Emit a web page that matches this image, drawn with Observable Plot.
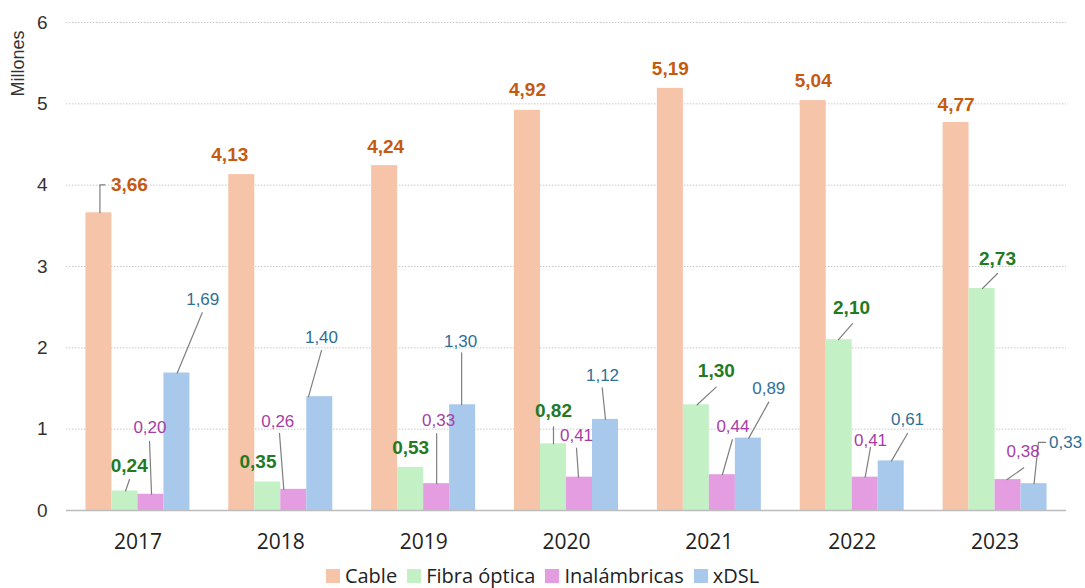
<!DOCTYPE html>
<html>
<head>
<meta charset="utf-8">
<script src="https://cdn.jsdelivr.net/npm/d3@7"></script>
<script src="https://cdn.jsdelivr.net/npm/@observablehq/plot@0.6"></script>
<style>
  html, body { margin: 0; padding: 0; background: #fff; }
  #chart { width: 1085px; }
  .legend { display: flex; justify-content: center; align-items: center; height: 25px; font-family: "Open Sans", sans-serif; font-size: 20px; color: #222; padding-left: 0; }
  .legend .item { display: flex; align-items: center; margin: 0 5px; }
  .legend .sw { width: 14px; height: 14px; margin-right: 5px; display: inline-block; }
</style>
</head>
<body>
<div id="chart"></div>
<script>
// ---------- data ----------
const years = [2017, 2018, 2019, 2020, 2021, 2022, 2023];
const series = ["Cable", "Fibra óptica", "Inalámbricas", "xDSL"];
const cable = [3.66, 4.13, 4.24, 4.92, 5.19, 5.04, 4.77];
const fibra = [0.24, 0.35, 0.53, 0.82, 1.30, 2.10, 2.73];
const inalambricas = [0.20, 0.26, 0.33, 0.41, 0.44, 0.41, 0.38];
const xdsl = [1.69, 1.40, 1.30, 1.12, 0.89, 0.61, 0.33];
const yTicks = [0, 1, 2, 3, 4, 5, 6];
const yTitle = "Millones";

// ---------- styles ----------
const barColors = ["#f6c4a9", "#c4f0c6", "#e39de0", "#a8c9eb"];
const labelColors = ["#c55a11", "#237a23", "#a63ea6", "#2f6f96"];
const labelWeights = ["bold", "bold", "normal", "normal"];
const labelSizes = [19, 19, 17, 17];

// label placement (pixel offsets from the top-centre of each bar)
const labelLayout = [
  [[12, -28, "start"], [-12, -20], [1, -19], [0, -20], [0, -19], [0, -19.5], [0, -18]],
  [[4.3, -25.5], [-9.8, -19.8], [0, -19], [0, -33], [20, -33.6], [12.3, -32], [15.4, -30]],
  [[-1, -67], [-16, -68], [2, -63], [-3, -42], [10.6, -48], [5.3, -36.7], [15, -28]],
  [[25.8, -73.3], [1.7, -59], [-2, -63], [-3, -44], [20.4, -49.3], [16.3, -41.4], [15, -41.5, "start"]]
];
const leaderLayout = [
  [[[1, 0], [1, -28], [6, -28]], null, null, null, null, null, null],
  [[[0.6, 0], [4.6, -11.5]], null, null, [[0, 0], [0, -17]], [[0.8, 0], [19.8, -17.6]], [[-0.7, 0], [13.3, -16]], [[0.4, 0], [15.4, -15]]],
  [[[0.6, 0], [-1.4, -53]], [[-10, 0], [-14.3, -56]], [[0, 0], [0, -50]], [[-1, 0], [-3, -29]], [[0, 0], [10, -35]], [[0, 0], [5.3, -29.7]], [[-1, 0], [15.7, -11.8]]],
  [[[0.3, 0], [25.3, -60.3]], [[-11.3, 0], [1.7, -46]], [[-1, 0], [-1, -52]], [[0, 0], [-3.3, -31.6]], [[0.4, 0], [20.4, -36]], [[0.3, 0], [16.3, -27.4]], [[0, 0], [4.4, -41.2], [11.4, -41.2]]]
];

// ---------- layout ----------
const W = 1085, H = 563, ML = 66, MR = 19, MT = 22, MB = 53;
const kx = (W - ML - MR) / years.length;      // px per year slot
const ky = (H - MT - MB) / (yTicks.length - 1); // px per unit
const barPx = 26;
const bw = barPx / kx;

const values = [cable, fibra, inalambricas, xdsl];
const fmt = v => v.toFixed(2).replace(".", ",");

const bars = [];
const labels = [];
const leaders = [];
values.forEach((vals, k) => {
  vals.forEach((v, i) => {
    const cx = i + (k - 1.5) * bw;
    bars.push({series: series[k], year: years[i], value: v, x1: cx - bw / 2, x2: cx + bw / 2});
    const L = labelLayout[k][i];
    labels.push({k, text: fmt(v), x: cx + L[0] / kx, y: v - L[1] / ky, anchor: L[2] || "middle"});
    const P = leaderLayout[k][i];
    if (P) P.forEach(p => leaders.push({id: k + "-" + i, x: cx + p[0] / kx, y: v - p[1] / ky}));
  });
});

const labelMarks = [];
series.forEach((s, k) => {
  ["middle", "start"].forEach(a => {
    const d = labels.filter(l => l.k === k && l.anchor === a);
    if (d.length) labelMarks.push(Plot.text(d, {
      x: "x", y: "y", text: "text", textAnchor: a,
      fill: labelColors[k], fontWeight: labelWeights[k], fontSize: labelSizes[k],
      fontFamily: "Liberation Sans, Arial, sans-serif"
    }));
  });
});

// y-axis title, placed left of the frame (pixel offsets converted to data units)
const titleDatum = [{text: yTitle, x: -0.5 - 48 / kx, y: 6 - 41 / ky}];

const chart = Plot.plot({
  width: W, height: H,
  marginLeft: ML, marginRight: MR, marginTop: MT, marginBottom: MB,
  style: {fontFamily: "Liberation Sans, Arial, sans-serif", background: "white", overflow: "visible"},
  x: {domain: [-0.5, years.length - 0.5]},
  y: {domain: [0, 6]},
  color: {domain: series, range: barColors},
  marks: [
    Plot.ruleY(yTicks.filter(t => t > 0), {stroke: "#c8c8c8", strokeWidth: 1, strokeDasharray: "1.5,1.5"}),
    Plot.rectY(bars, {x1: "x1", x2: "x2", y1: 0, y2: "value", fill: "series", inset: 0}),
    Plot.ruleY([0], {stroke: "#bcbcbc", strokeWidth: 1.5}),
    Plot.line(leaders, {x: "x", y: "y", z: "id", stroke: "#7f7f7f", strokeWidth: 1.2}),
    ...labelMarks,
    Plot.axisY({ticks: yTicks, tickSize: 0, tickPadding: 19, fontSize: 19, fill: "#333", tickFormat: d => String(d), label: null}),
    Plot.axisX({ticks: d3.range(years.length), tickSize: 0, tickPadding: 24, tickFormat: i => String(years[i]), fontSize: 21, fontFamily: "Open Sans, sans-serif", fill: "#222", label: null}),
    Plot.text(titleDatum, {x: "x", y: "y", text: "text", rotate: -90, fontSize: 18, fill: "#333", clip: false})
  ]
});

const root = document.getElementById("chart");
root.appendChild(chart);

const legend = document.createElement("div");
legend.className = "legend";
series.forEach((s, k) => {
  const it = document.createElement("span");
  it.className = "item";
  const sw = document.createElement("span");
  sw.className = "sw";
  sw.style.background = barColors[k];
  const tx = document.createElement("span");
  tx.textContent = s;
  it.appendChild(sw); it.appendChild(tx);
  legend.appendChild(it);
});
root.appendChild(legend);
</script>
</body>
</html>
